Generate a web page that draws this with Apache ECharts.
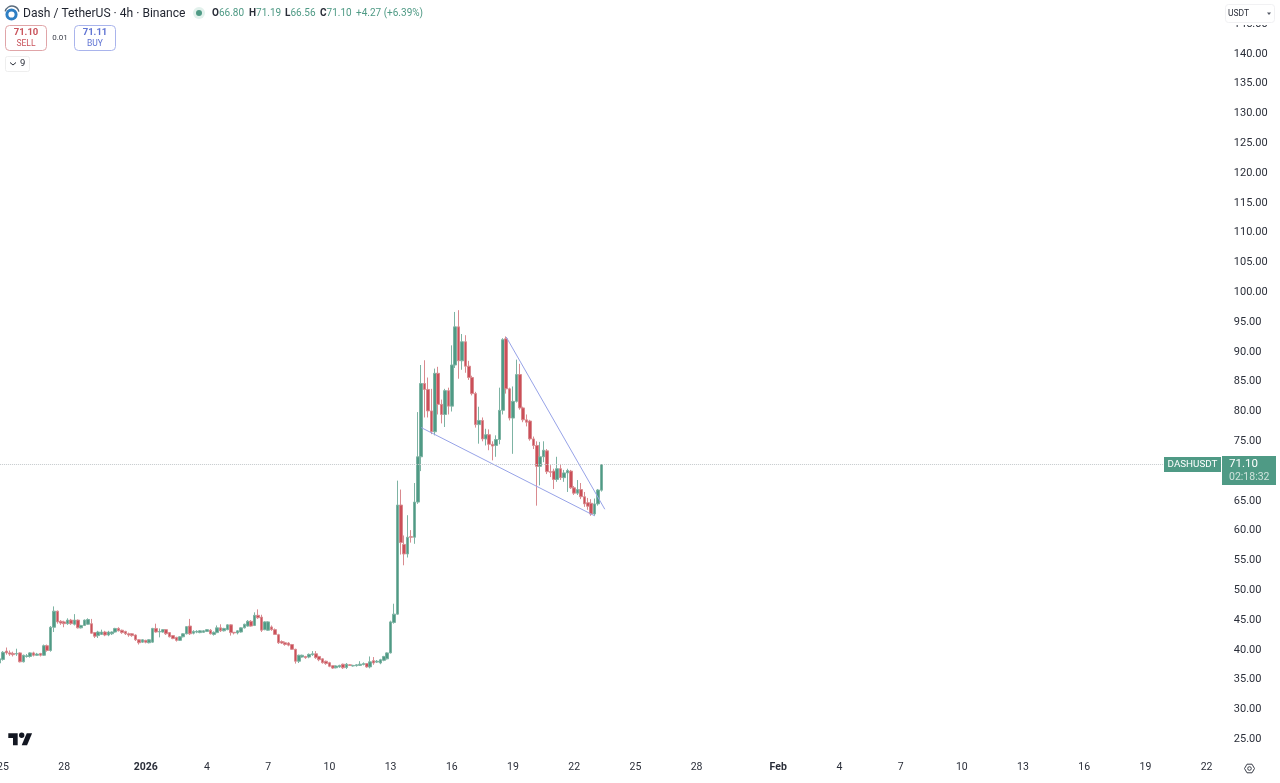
<!DOCTYPE html>
<html><head><meta charset="utf-8">
<style>html,body{margin:0;padding:0;background:#fff}#c{width:1280px;height:783px}</style>
<script src="https://cdn.jsdelivr.net/npm/echarts@6/dist/echarts.min.js"></script>
</head><body><div id="c"></div>
<script>
// 4h bars, first bar is the one clipped by the left edge
const opens = [37.8,38.4,39.8,39.5,39.4,39.3,39.5,38.0,38.9,38.9,39.5,39.1,39.4,39.1,40.7,39.9,43.8,46.5,44.8,44.7,44.4,45.0,44.3,45.0,43.7,44.1,44.3,44.4,42.9,42.4,42.6,43.0,42.5,42.7,43.0,43.6,43.3,43.1,42.7,42.7,42.5,41.7,41.3,41.6,41.2,41.3,43.6,43.0,43.0,43.4,42.9,42.4,42.1,41.6,42.2,42.7,44.0,42.8,43.0,
42.9,42.95,43.1,43.3,42.6,42.9,43.7,43.2,43.4,44.2,42.95,42.85,43.0,43.7,44.0,44.8,44.1,45.8,45.5,43.4,43.3,43.85,43.4,42.55,41.4,41.2,41.15,40.9,40.1,38.1,38.8,38.9,38.8,39.2,39.35,38.9,38.5,38.1,37.85,37.35,37.0,37.15,37.6,37.05,37.5,37.3,37.35,37.4,37.55,37.7,37.15,38.2,37.95,37.8,38.25,38.5,39.5,44.6,46.0,64.3,57.7,56.1,59.0,58.9,64.8,72.4,84.7,83.7,80.1,76.6,86.4,81.2,79.5,83.5,80.9,87.8,94.2,88.5,91.7,87.6,85.7,83.0,77.8,78.5,75.4,76.1,74.5,74.3,75.3,80.2,92.2,83.8,78.9,81.7,86.2,80.6,78.6,78.4,75.4,74.3,70.8,72.4,73.4,69.9,70.0,68.6,70.4,68.9,69.7,70.0,67.2,66.3,66.9,65.7,64.7,64.6,62.8,64.5,66.8];
const closes = [38.5,39.6,39.5,39.3,39.2,39.4,38.0,39.1,39.0,39.5,39.1,39.3,39.1,40.7,39.9,43.8,46.5,44.7,44.5,44.4,45.0,44.4,45.0,43.7,44.1,45.0,45.1,42.8,42.3,43.0,43.0,42.5,43.0,43.0,43.6,43.2,42.9,42.7,42.5,42.4,41.7,41.2,41.7,41.3,41.7,43.6,43.0,43.1,43.4,42.7,42.2,41.9,41.6,42.2,42.7,43.9,42.7,43.1,43.1,
43.2,43.2,43.4,42.7,42.95,43.7,43.2,43.6,44.2,42.9,42.85,43.2,43.7,44.3,44.8,44.0,45.8,45.4,43.3,44.7,44.7,43.4,42.6,41.2,41.15,40.9,40.8,40.1,38.1,39.1,39.1,38.7,39.25,39.35,38.7,38.35,37.85,37.7,37.25,36.95,37.3,37.4,37.0,37.6,37.4,37.4,37.5,37.6,37.7,37.15,38.0,37.8,38.1,38.35,38.9,39.5,44.7,46.0,64.3,58.0,56.1,58.9,58.9,64.8,72.4,84.7,83.7,80.1,76.6,86.4,81.2,79.5,83.5,80.9,87.8,94.2,88.5,91.7,87.6,85.7,83.0,77.8,78.5,75.4,76.1,74.5,74.2,75.3,80.2,92.05,83.8,78.9,81.7,86.2,80.6,78.6,78.2,75.4,74.3,70.8,72.4,73.5,69.9,69.8,68.6,70.4,68.9,69.7,70.1,67.2,66.3,66.9,65.7,64.5,64.1,62.8,64.5,66.83,71.1];
const lows = [37.6,38.2,39.2,39.0,38.9,39.0,37.9,37.9,38.7,38.7,38.9,39.0,38.9,39.0,39.7,39.7,43.0,44.4,44.2,43.8,44.2,44.2,44.1,43.6,43.6,44.0,44.2,42.7,42.0,42.0,42.5,42.3,42.3,42.5,42.9,43.1,42.7,42.5,42.2,42.2,41.5,40.9,41.2,41.1,41.1,41.2,42.9,42.1,42.9,42.5,42.1,41.8,41.4,41.5,42.1,42.6,42.5,42.6,42.8,
42.8,42.85,43.0,42.6,42.4,42.8,43.0,43.1,43.3,42.4,42.6,42.6,42.9,43.6,43.9,43.9,44.0,45.2,43.0,43.3,43.2,43.2,42.5,41.0,41.0,40.7,40.6,40.0,37.7,37.8,38.7,38.5,38.6,39.0,38.5,38.1,37.7,37.5,37.1,36.8,36.9,37.0,36.8,36.8,37.3,37.2,37.2,37.3,37.4,37.0,36.9,37.5,37.8,37.6,38.1,38.4,39.4,44.4,45.9,56.0,54.2,55.5,58.0,57.8,64.5,70.0,79.0,79.0,76.2,76.0,79.5,78.0,77.4,79.5,80.0,87.3,85.5,87.0,86.5,85.3,82.7,77.3,74.6,75.0,74.3,73.5,71.8,72.4,74.5,79.5,83.0,78.5,72.9,81.5,80.3,78.2,77.5,75.1,73.7,64.2,67.6,71.5,69.5,69.0,67.0,68.2,68.5,68.2,66.5,67.0,66.0,66.0,65.3,64.0,63.5,62.5,62.5,64.2,66.56];
const highs = [38.7,39.8,40.4,39.9,39.7,40.2,39.6,39.2,39.3,39.6,39.7,39.5,39.5,40.9,40.9,44.0,47.3,46.6,45.0,44.9,45.3,45.2,46.0,45.1,44.2,45.1,45.3,45.2,43.0,43.2,43.4,43.2,43.2,43.1,43.7,43.8,43.4,43.2,42.9,42.8,42.6,41.8,41.8,41.7,41.8,43.7,44.4,43.6,43.5,43.5,43.0,42.5,42.2,42.3,42.8,44.0,45.2,43.3,43.3,
43.3,43.3,43.5,43.5,43.1,44.1,44.3,43.7,44.3,44.3,43.0,43.3,43.8,44.4,45.0,45.0,46.3,46.8,45.9,44.8,44.8,44.1,43.6,42.7,41.6,41.4,41.3,41.0,40.2,39.2,39.2,39.0,39.4,39.8,39.8,39.0,38.6,38.2,38.0,37.4,37.4,37.5,37.7,37.8,37.6,37.5,37.6,38.1,37.9,37.8,38.9,38.8,38.3,38.5,39.0,39.6,44.9,47.75,68.4,66.9,59.2,62.6,60.1,68.0,79.9,87.8,88.6,85.7,83.8,87.2,87.5,82.0,83.8,84.0,91.1,96.7,97.0,93.0,92.8,88.5,86.0,83.3,80.8,79.0,77.1,77.0,75.0,76.0,84.0,92.3,92.6,84.0,84.2,88.7,88.0,80.8,79.5,78.6,75.8,75.0,74.9,75.0,73.7,71.0,70.4,72.4,71.2,70.2,70.4,70.2,67.5,68.5,68.0,66.5,65.5,65.3,65.4,67.0,71.19];
const lastPrice = 71.10;
const slotCount = 361;
const tickSlots = [1,19,43,61,79,97,115,133,151,169,187,205,229,247,265,283,301,319,337,355];
const tickLabels = ['25','28','2026','4','7','10','13','16','19','22','25','28','Feb','4','7','10','13','16','19','22'];
const boldTicks = ['2026','Feb'];
const upperTrendSlots = [149,178], upperTrendValues = [92.5,63.6];
const lowerTrendSlots = [124,175], lowerTrendValues = [77.3,62.5];

const UI = 'Roboto, "Noto Sans", sans-serif';
const categories = Array.from({length: slotCount}, (_, k) => String(k));
const tickMap = {}; tickSlots.forEach((s, k) => tickMap[s] = tickLabels[k]);
const candles = opens.map((o, k) => [o, closes[k], lows[k], highs[k]]);
const green = '#4f9a85', greenLine = '#7db3a3', red = '#cb4f58', redLine = '#d98a8f', blueLine = '#97a3e8', ink = '#2a2e39';

function label(x, y, text, size, fill, extra) {
  return {type: 'text', z: 101, style: Object.assign({x, y, text, fontSize: size, fontFamily: UI, fill, verticalAlign: 'middle'}, extra || {})};
}
function box(x, y, w, h, fill, stroke, r) {
  return {type: 'rect', z: 100, shape: {x, y, width: w, height: h, r: r || 0}, style: {fill, stroke: stroke || null, lineWidth: 1}};
}
const kv = {k: {fill: ink, fontWeight: 'bold', fontSize: 10, fontFamily: UI}, v: {fill: '#4f9a85', fontSize: 10, fontFamily: UI}};
const graphics = [
  // logo
  {type: 'circle', z: 100, shape: {cx: 11.5, cy: 14.5, r: 4.6}, style: {fill: 'none', stroke: '#2e7fc4', lineWidth: 3}},
  {type: 'arc', z: 100, shape: {cx: 12, cy: 13, r: 7, startAngle: -2.9, endAngle: -0.2}, style: {fill: 'none', stroke: '#5a6b7c', lineWidth: 1.4}},
  label(23, 13.5, 'Dash / TetherUS · 4h · Binance', 12.1, '#1f232e'),
  {type: 'circle', z: 100, shape: {cx: 199, cy: 13, r: 6}, style: {fill: '#e2f1ec'}},
  {type: 'circle', z: 101, shape: {cx: 199, cy: 13, r: 3}, style: {fill: green}},
  label(212, 13.5, '{k|O}{v|66.80}', 10, green, {rich: kv}),
  label(249, 13.5, '{k|H}{v|71.19}', 10, green, {rich: kv}),
  label(285, 13.5, '{k|L}{v|66.56}', 10, green, {rich: kv}),
  label(320, 13.5, '{k|C}{v|71.10}', 10, green, {rich: kv}),
  label(356, 13.5, '+4.27 (+6.39%)', 10, '#4f9a85'),
  // order buttons
  box(5.5, 25.5, 41, 25, '#fff', '#e0a5a8', 4),
  label(26, 32.5, '71.10', 9.5, '#c9535b', {align: 'center', fontWeight: 'bold'}),
  label(26, 43.5, 'SELL', 8.5, '#c9535b', {align: 'center'}),
  label(60, 37.5, '0.01', 8, '#3a3e49', {align: 'center'}),
  box(74.5, 25.5, 41, 25, '#fff', '#a9b4ec', 4),
  label(95, 32.5, '71.11', 9.5, '#5f73d3', {align: 'center', fontWeight: 'bold'}),
  label(95, 43.5, 'BUY', 8.5, '#5f73d3', {align: 'center'}),
  box(5.5, 56.5, 24, 15, '#fff', '#eeeeee', 2),
  {type: 'polyline', z: 101, shape: {points: [[10, 62.5], [13, 65], [16, 62.5]]}, style: {fill: 'none', stroke: ink, lineWidth: 1}},
  label(20, 64, '9', 9.5, ink),
  // currency button, covering most of the topmost price label
  box(1225, 20, 51, 5, '#fff'),
  box(1225.5, 4.5, 49, 18, '#fff', '#f1f1f3', 3),
  label(1228, 13.5, 'USDT', 8.5, ink),
  {type: 'polygon', z: 101, shape: {points: [[1267, 12.5], [1271, 12.5], [1269, 15]]}, style: {fill: '#555a66'}},
  // last price tags
  box(1164, 457, 57, 15, green),
  label(1192.5, 464.8, 'DASHUSDT', 9.8, '#fff', {align: 'center'}),
  box(1222, 456, 54, 29, green),
  label(1229, 464.5, '71.10', 11.5, '#fff'),
  label(1229, 477.5, '02:18:32', 10.5, '#cfe3dc'),
  // TradingView mark
  {type: 'polygon', z: 100, x: 8.3, y: 730.6, scaleX: 0.67, scaleY: 0.67,
   shape: {points: [[0, 4], [14, 4], [14, 22], [7, 22], [7, 11], [0, 11]]}, style: {fill: '#131722'}},
  {type: 'polygon', z: 100, x: 8.3, y: 730.6, scaleX: 0.67, scaleY: 0.67,
   shape: {points: [[27.5, 4], [35.5, 4], [28, 22], [20, 22]]}, style: {fill: '#131722'}},
  {type: 'circle', z: 100, shape: {cx: 21.7, cy: 735.3, r: 2.7}, style: {fill: '#131722'}},
  // settings mark
  {type: 'polygon', z: 100, shape: {points: [[1244.5, 768.5], [1247, 764.2], [1252, 764.2], [1254.5, 768.5], [1252, 772.8], [1247, 772.8]]}, style: {fill: 'none', stroke: '#3a3e49', lineWidth: 1}},
  {type: 'circle', z: 100, shape: {cx: 1249.5, cy: 768.5, r: 1.8}, style: {fill: 'none', stroke: '#3a3e49', lineWidth: 1}}
];

const option = {
  animation: false,
  backgroundColor: '#ffffff',
  grid: {left: -2.1, width: 3.4 * slotCount, top: 24.1, height: 715.2, containLabel: false, outerBoundsMode: 'none'},
  xAxis: {
    type: 'category', data: categories, boundaryGap: true,
    axisLine: {show: false}, axisTick: {show: false}, splitLine: {show: false},
    axisLabel: {
      interval: idx => tickMap[idx] !== undefined, margin: 23, fontSize: 10.5, fontFamily: UI, color: '#2a2e39',
      formatter: (v, idx) => {
        const t = tickMap[v]; if (t === undefined) return '';
        return boldTicks.includes(t) ? '{b|' + t + '}' : t;
      },
      rich: {b: {fontWeight: 'bold', fontSize: 10.5, fontFamily: UI, color: '#2a2e39'}}
    }
  },
  yAxis: {
    type: 'value', position: 'right', min: 25, max: 145, interval: 5, scale: true,
    axisLine: {show: false}, axisTick: {show: false}, splitLine: {show: false},
    axisLabel: {inside: false, margin: 8.5, fontSize: 11, fontFamily: UI, color: '#2a2e39', formatter: v => v.toFixed(2)}
  },
  series: [
    {
      type: 'candlestick', data: candles, barWidth: 3,
      itemStyle: {color: green, color0: red, borderColor: greenLine, borderColor0: redLine, borderWidth: 1},
      markLine: {
        silent: true, symbol: 'none', label: {show: false},
        lineStyle: {color: '#c4c9cc', type: 'dotted', width: 1},
        data: [{yAxis: lastPrice}]
      }
    },
    {
      type: 'line', symbol: 'none', silent: true, lineStyle: {color: blueLine, width: 1},
      data: upperTrendSlots.map((s, k) => [categories[s], upperTrendValues[k]])
    },
    {
      type: 'line', symbol: 'none', silent: true, lineStyle: {color: blueLine, width: 1},
      data: lowerTrendSlots.map((s, k) => [categories[s], lowerTrendValues[k]])
    }
  ],
  graphic: {elements: graphics}
};
const chart = echarts.init(document.getElementById('c'), null, {renderer: 'canvas'});
chart.setOption(option);
</script></body></html>
